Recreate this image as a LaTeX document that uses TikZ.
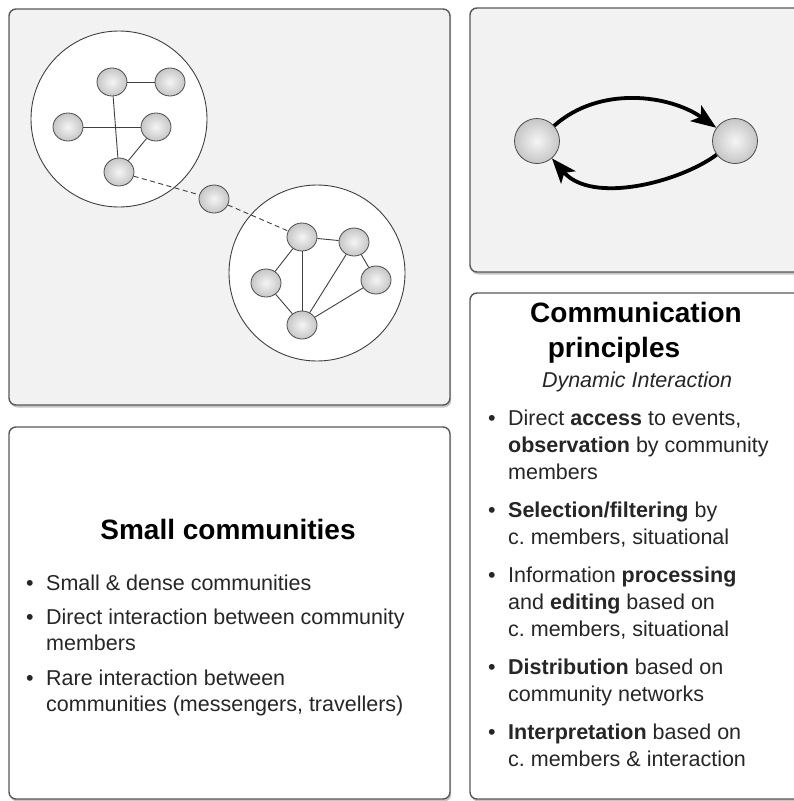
\documentclass[tikz,border=0pt]{standalone}
\usepackage{fontspec}
\setmainfont{Liberation Sans}
\usetikzlibrary{arrows.meta,shapes.geometric,shadows}
\definecolor{rimGray}{RGB}{88,88,88}
\definecolor{paneGray}{RGB}{242,242,242}
\definecolor{ballGray}{RGB}{198,198,198}
\definecolor{inkGray}{RGB}{38,38,38}
\newcommand{\bul}{\makebox[20pt][l]{\textbullet}}
\newcommand{\ind}{\hspace*{20pt}}

\begin{document}
\frenchspacing
\begin{tikzpicture}[x=1pt,y=-1pt,
    pane/.style={draw=rimGray,line width=1.4pt,rounded corners=7pt,
      drop shadow={shadow xshift=1.2pt,shadow yshift=-2.5pt,opacity=0.45}},
    group/.style={circle,draw=black!75,fill=white,line width=0.9pt,minimum size=176pt,inner sep=0pt},
    member/.style={ellipse,draw=black!70,line width=0.8pt,minimum width=30pt,minimum height=28pt,
      inner sep=0pt,inner color=black!4,outer color=ballGray},
    peer/.style={member,circle,minimum size=45pt},
    link/.style={draw=black!75,line width=0.9pt},
    weak/.style={link,dash pattern=on 5pt off 3.5pt},
    flow/.style={line width=3.8pt,-{Stealth[length=25pt,width=19pt,inset=6pt]}},
    title/.style={font=\fontsize{28}{35}\selectfont\bfseries,inner sep=0pt,align=center},
    body/.style={font=\fontsize{21.5}{26}\selectfont,text=inkGray,inner sep=0pt,align=left}]
  \path[use as bounding box,fill=white] (0,0) rectangle (794,801);

  % the four panes
  \path[pane,fill=paneGray] (9,9) rectangle (450,405);
  \path[pane,fill=paneGray] (470,8) rectangle (806,272);
  \path[pane,fill=white] (9,427) rectangle (450,799);
  \path[pane,fill=white] (470,293) rectangle (806,799);

  % two communities and a messenger
  \node[group] (left) at (119,119) {};
  \node[group] (right) at (317,273) {};
  \foreach \name/\x/\y in {a1/112/82, a2/170/82, a3/68/127, a4/156/127, a5/119/172,
      msg/214/199,
      b1/302/237, b2/354/242, b3/266/283, b4/376/280, b5/302/325}
    \node[member] (\name) at (\x,\y) {};
  \foreach \u/\v in {a1/a2, a1/a5, a3/a4, a4/a5,
      b1/b2, b1/b3, b1/b5, b2/b5, b2/b4, b4/b5, b3/b5}
    \draw[link] (\u) -- (\v);
  \draw[weak] (a5) -- (msg) -- (b1);

  % dynamic interaction
  \node[peer] (p1) at (537,141) {};
  \node[peer] (p2) at (735,141) {};
  \draw[flow] (p1) .. controls (600,85) and (670,95) .. (p2);
  \draw[flow] (p2) .. controls (680,182) and (592,205) .. (p1);

  % texts
  \node[title,anchor=base] (small) at (228,539) {Small communities};
  \node[body,anchor=north west] (smalllist) at (26,574.3)
    {\bul Small \& dense communities\\[8.5pt]
     \bul Direct interaction between community\\\ind members\\[8.5pt]
     \bul Rare interaction between\\\ind communities (messengers, travellers)};

  \node[title,anchor=north] (comm) at (636,301.6) {Communication\\principles\hspace*{44pt}};
  \node[body,anchor=base,font=\fontsize{21.5}{26}\selectfont\itshape] (dyn) at (637,387) {Dynamic Interaction};
  \node[body,anchor=north west,font=\fontsize{21.5}{27}\selectfont] (commlist) at (488,409.5)
    {\bul Direct \textbf{access} to events,\\\ind \textbf{observation} by community\\\ind members\\[11pt]
     \bul \textbf{Selection/filtering} by\\\ind c. members, situational\\[11pt]
     \bul Information \textbf{processing}\\\ind and \textbf{editing} based on\\\ind c. members, situational\\[11pt]
     \bul \textbf{Distribution} based on\\\ind community networks\\[11pt]
     \bul \textbf{Interpretation} based on\\\ind c. members \& interaction};
\end{tikzpicture}
\end{document}
